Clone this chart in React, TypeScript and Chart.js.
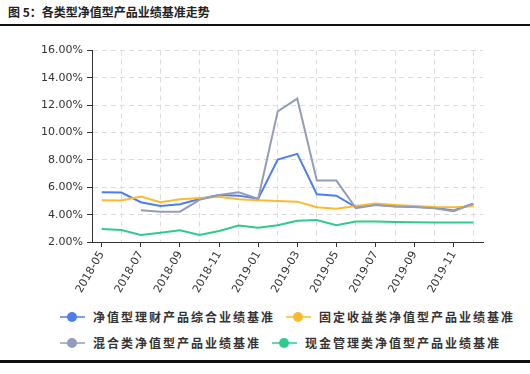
import React, { useEffect, useRef } from 'react';
import { Chart, registerables } from 'chart.js';

Chart.register(...registerables);

const months = [
  '2018-05', '2018-06', '2018-07', '2018-08', '2018-09', '2018-10', '2018-11', '2018-12',
  '2019-01', '2019-02', '2019-03', '2019-04', '2019-05', '2019-06', '2019-07', '2019-08',
  '2019-09', '2019-10', '2019-11', '2019-12',
];

const compositeBenchmark = [5.63, 5.62, 4.91, 4.64, 4.76, 5.15, 5.44, 5.39, 5.17, 8.03, 8.44, 5.49, 5.39, 4.54, 4.72, 4.62, 4.58, 4.5, 4.3, 4.8];
const fixedIncomeBenchmark = [5.05, 5.03, 5.32, 4.91, 5.13, 5.22, 5.3, 5.13, 5.05, 5.0, 4.95, 4.54, 4.44, 4.64, 4.81, 4.71, 4.64, 4.56, 4.54, 4.62];
const mixedBenchmark = [null, null, 4.32, 4.22, 4.22, 5.08, 5.44, 5.64, 5.17, 11.55, 12.48, 6.49, 6.49, 4.47, 4.71, 4.59, 4.56, 4.47, 4.25, 4.81];
const cashBenchmark = [2.95, 2.88, 2.51, 2.68, 2.86, 2.51, 2.8, 3.2, 3.05, 3.22, 3.56, 3.61, 3.22, 3.49, 3.49, 3.46, 3.44, 3.42, 3.42, 3.42];

const yMin = 2;
const yMax = 16;
const yStep = 2;

const seriesNames = [
  '净值型理财产品综合业绩基准',
  '固定收益类净值型产品业绩基准',
  '混合类净值型产品业绩基准',
  '现金管理类净值型产品业绩基准',
];
const seriesColors = ['#4d7ef0', '#fbbb2c', '#919dba', '#2ecb8e'];

const titleText = '图 5：各类型净值型产品业绩基准走势';

const cjkFont = '"Noto Sans CJK SC", "Noto Sans", sans-serif';

function LegendItem({ name, color }: { name: string; color: string }) {
  return (
    <div style={{ display: 'flex', alignItems: 'center', height: 14 }}>
      <span style={{ position: 'relative', display: 'inline-block', width: 25, height: 12 }}>
        <span style={{ position: 'absolute', left: 0, top: 5, width: 25, height: 2, background: color, opacity: 0.75 }} />
        <span style={{ position: 'absolute', left: 7, top: 1, width: 10, height: 10, borderRadius: '50%', background: color }} />
      </span>
      <span style={{ marginLeft: 8, fontFamily: cjkFont, fontSize: 12, fontWeight: 'bold', letterSpacing: 2, color: '#333', lineHeight: '14px', whiteSpace: 'nowrap' }}>
        {name}
      </span>
    </div>
  );
}

export default function App() {
  const canvasRef = useRef<HTMLCanvasElement | null>(null);

  useEffect(() => {
    const canvas = canvasRef.current;
    if (!canvas) return;
    const mk = (label: string, data: (number | null)[], color: string, order: number) => ({
      label,
      data,
      borderColor: color,
      backgroundColor: color,
      borderWidth: 2,
      pointRadius: 0,
      pointHoverRadius: 0,
      tension: 0,
      fill: false,
      spanGaps: false,
      order,
    });
    const chart = new Chart(canvas, {
      type: 'line',
      data: {
        labels: months,
        datasets: [
          mk(seriesNames[0], compositeBenchmark, seriesColors[0], 3),
          mk(seriesNames[1], fixedIncomeBenchmark, seriesColors[1], 2),
          mk(seriesNames[2], mixedBenchmark, seriesColors[2], 1),
          mk(seriesNames[3], cashBenchmark, seriesColors[3], 4),
        ],
      },
      options: {
        responsive: false,
        maintainAspectRatio: false,
        animation: false,
        layout: { padding: { left: 0, right: 47, top: 20.5, bottom: 0 } },
        plugins: {
          legend: { display: false },
          tooltip: { enabled: false },
        },
        scales: {
          x: {
            type: 'category',
            offset: true,
            grid: {
              offset: false,
              drawOnChartArea: true,
              drawTicks: true,
              tickLength: 5,
              lineWidth: 1,
              color: (ctx: any) => (ctx.index % 2 === 1 ? '#dcdcdc' : 'rgba(0,0,0,0)'),
              tickColor: (ctx: any) => (ctx.index % 2 === 0 ? '#333333' : 'rgba(0,0,0,0)'),
            },
            border: { display: true, color: '#333333', width: 1, dash: [5, 4] },
            ticks: {
              autoSkip: false,
              minRotation: 60,
              maxRotation: 60,
              padding: 2,
              color: '#333333',
              font: { family: '"DejaVu Sans", sans-serif', size: 11 },
              callback: (_v: any, i: number) => (i % 2 === 0 ? months[i] : ''),
            },
            afterFit: (scale: any) => {
              scale.height = 58;
            },
          },
          y: {
            min: yMin,
            max: yMax,
            grid: {
              color: '#dcdcdc',
              lineWidth: 1,
              drawTicks: true,
              tickLength: 5,
              tickColor: '#333333',
            },
            border: { display: true, color: '#333333', width: 1, dash: [5, 4] },
            ticks: {
              stepSize: yStep,
              padding: 4,
              color: '#333333',
              font: { family: '"DejaVu Sans", sans-serif', size: 11 },
              callback: (v: any) => Number(v).toFixed(2) + '%',
            },
            afterFit: (scale: any) => {
              scale.width = 92;
            },
          },
        },
      },
    } as any);
    return () => chart.destroy();
  }, []);

  return (
    <div style={{ position: 'fixed', left: 0, top: 0, width: 530, height: 374, background: '#ffffff', overflow: 'hidden' }}>
      <div style={{ position: 'absolute', left: 8, top: 4, height: 16, lineHeight: '16px', fontFamily: cjkFont, fontSize: 12, fontWeight: 'bold', color: '#222', whiteSpace: 'nowrap' }}>
        {titleText}
      </div>
      <div style={{ position: 'absolute', left: 0, top: 24, width: 530, height: 1.5, background: '#111' }} />
      <canvas ref={canvasRef} width={530} height={270} style={{ position: 'absolute', left: 0, top: 30, width: 530, height: 270 }} />
      <div style={{ position: 'absolute', left: 60, top: 310, display: 'flex', gap: 11 }}>
        <LegendItem name={seriesNames[0]} color={seriesColors[0]} />
        <LegendItem name={seriesNames[1]} color={seriesColors[1]} />
      </div>
      <div style={{ position: 'absolute', left: 60, top: 336, display: 'flex', gap: 11 }}>
        <LegendItem name={seriesNames[2]} color={seriesColors[2]} />
        <LegendItem name={seriesNames[3]} color={seriesColors[3]} />
      </div>
      <div style={{ position: 'absolute', left: 0, top: 360, width: 530, height: 2.5, background: '#111' }} />
    </div>
  );
}
